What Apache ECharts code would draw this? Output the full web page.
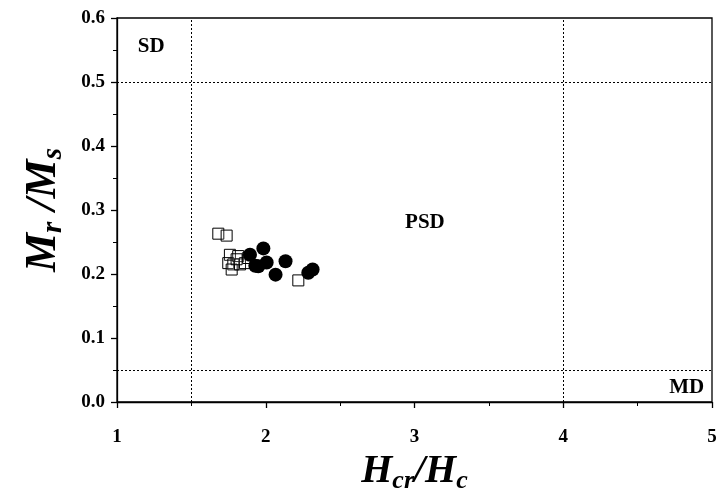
<!DOCTYPE html>
<html>
<head>
<meta charset="utf-8">
<script src="https://cdn.jsdelivr.net/npm/echarts@6/dist/echarts.min.js"></script>
<style>html,body{margin:0;padding:0;background:#fff}#c{width:725px;height:499px}</style>
</head>
<body>
<div id="c"></div>
<script>
// Open squares
var squaresX = [1.681, 1.737, 1.759, 1.748, 1.782, 1.815, 1.771, 1.827, 1.860, 1.804, 1.882, 2.219];
var squaresY = [0.263, 0.260, 0.230, 0.217, 0.215, 0.228, 0.207, 0.215, 0.217, 0.223, 0.225, 0.190];
// Filled circles
var circlesX = [1.984, 1.894, 1.950, 1.930, 2.006, 2.133, 2.066, 2.315, 2.286];
var circlesY = [0.240, 0.230, 0.212, 0.213, 0.218, 0.220, 0.199, 0.207, 0.202];
// Domain boundaries
var vLines = [1.5, 4];
var hLines = [0.5, 0.05];
// Region labels
var regionNames = ['SD', 'PSD', 'MD'];
var regionX = [1.23, 3.07, 4.83];
var regionY = [0.555, 0.28, 0.023];

var FONT = '"Liberation Serif", "DejaVu Serif", serif';

function pairs(xs, ys) { return xs.map(function (x, i) { return [x, ys[i]]; }); }

function titleRich(big, small, pad) {
  return {
    b: { fontFamily: FONT, fontWeight: 'bold', fontStyle: 'italic', fontSize: big, color: '#000' },
    s: { fontFamily: FONT, fontWeight: 'bold', fontStyle: 'italic', fontSize: small, color: '#000', padding: [pad, 0, 0, 0] }
  };
}

var chart = echarts.init(document.getElementById('c'));
chart.setOption({
  animation: false,
  backgroundColor: '#fff',
  grid: { left: 117, right: 13, top: 18, bottom: 91, show: true, borderColor: '#000', borderWidth: 1.3, backgroundColor: 'transparent' },
  xAxis: {
    type: 'value', min: 1, max: 5, interval: 1,
    name: '{b|H}{s|cr}{b|/H}{s|c}',
    nameLocation: 'middle', nameGap: 48,
    nameTextStyle: { rich: titleRich(40, 26, 18) },
    axisLine: { show: true, lineStyle: { color: '#000', width: 1.3 } },
    axisTick: { show: true, length: 6, inside: false, lineStyle: { color: '#000', width: 1.3 } },
    minorTick: { show: true, splitNumber: 2, length: 4, lineStyle: { color: '#000', width: 1 } },
    splitLine: { show: false },
    axisLabel: { margin: 26, fontFamily: FONT, fontWeight: 'bold', fontSize: 19, color: '#000' }
  },
  yAxis: {
    type: 'value', min: 0, max: 0.6, interval: 0.1,
    name: '{b|M}{s|r}{b| /M}{s|s}',
    nameLocation: 'middle', nameGap: 49,
    nameTextStyle: { rich: titleRich(44, 29, 20) },
    axisLine: { show: true, lineStyle: { color: '#000', width: 1.3 } },
    axisTick: { show: true, length: 6, inside: false, lineStyle: { color: '#000', width: 1.3 } },
    minorTick: { show: true, splitNumber: 2, length: 4, lineStyle: { color: '#000', width: 1 } },
    splitLine: { show: false },
    axisLabel: { margin: 12, fontFamily: FONT, fontWeight: 'bold', fontSize: 19, color: '#000',
      formatter: function (v) { return v.toFixed(1); } }
  },
  series: [
    {
      type: 'scatter', name: 'squares', data: pairs(squaresX, squaresY),
      symbol: 'rect', symbolSize: 11,
      itemStyle: { color: 'rgba(255,255,255,0.1)', borderColor: '#000', borderWidth: 1, opacity: 1 },
      markLine: {
        silent: true, symbol: 'none', label: { show: false },
        lineStyle: { color: '#000', type: [2, 2], width: 1, opacity: 1 },
        data: vLines.map(function (v) { return { xAxis: v }; }).concat(hLines.map(function (v) { return { yAxis: v }; }))
      }
    },
    {
      type: 'scatter', name: 'circles', data: pairs(circlesX, circlesY),
      symbol: 'circle', symbolSize: 14,
      itemStyle: { color: '#000', opacity: 1 }
    },
    {
      type: 'scatter', name: 'labels',
      data: regionNames.map(function (n, i) { return { value: [regionX[i], regionY[i]], name: n }; }),
      symbolSize: 1, silent: true,
      itemStyle: { color: 'transparent', opacity: 1 },
      label: { show: true, position: 'inside', formatter: '{b}', fontFamily: FONT, fontWeight: 'bold', fontSize: 21, color: '#000', opacity: 1, textBorderWidth: 0 }
    }
  ]
});
</script>
</body>
</html>
